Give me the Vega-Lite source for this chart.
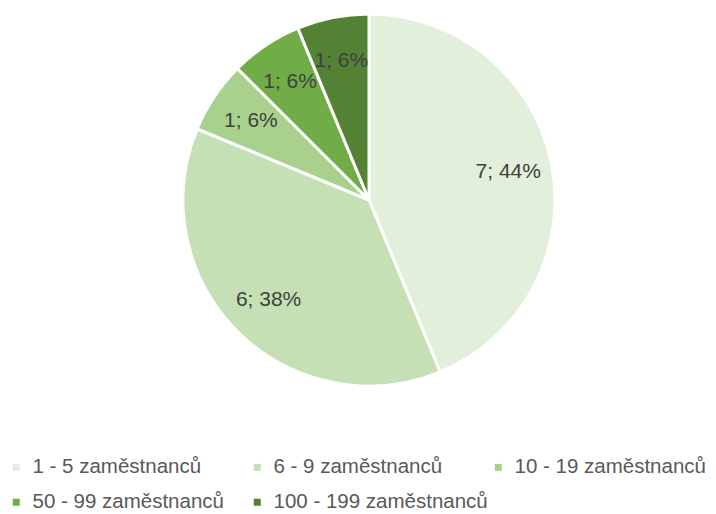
{
  "$schema": "https://vega.github.io/schema/vega-lite/v6.json",
  "width": 738,
  "height": 400,
  "padding": {"left": 0, "top": 0, "right": 0, "bottom": 114},
  "autosize": {"type": "none"},
  "background": "white",
  "config": {"view": {"stroke": null}, "font": "Liberation Sans"},
  "data": {
    "values": [
      {"cat": "1 - 5 zaměstnanců", "n": 7, "label": "7; 44%", "ord": 1},
      {"cat": "6 - 9 zaměstnanců", "n": 6, "label": "6; 38%", "ord": 2},
      {"cat": "10 - 19 zaměstnanců", "n": 1, "label": "1; 6%", "ord": 3},
      {"cat": "50 - 99 zaměstnanců", "n": 1, "label": "1; 6%", "ord": 4},
      {"cat": "100 - 199 zaměstnanců", "n": 1, "label": "1; 6%", "ord": 5}
    ]
  },
  "encoding": {
    "theta": {"field": "n", "type": "quantitative", "stack": true},
    "order": {"field": "ord", "type": "quantitative"}
  },
  "layer": [
    {
      "mark": {"type": "arc", "outerRadius": 186, "stroke": "white", "strokeWidth": 3},
      "encoding": {
        "color": {
          "field": "cat",
          "type": "nominal",
          "sort": ["1 - 5 zaměstnanců", "6 - 9 zaměstnanců", "10 - 19 zaměstnanců", "50 - 99 zaměstnanců", "100 - 199 zaměstnanců"],
          "scale": {
            "domain": ["1 - 5 zaměstnanců", "6 - 9 zaměstnanců", "10 - 19 zaměstnanců", "50 - 99 zaměstnanců", "100 - 199 zaměstnanců"],
            "range": ["#E2EFDA", "#C5E0B4", "#A9D18E", "#70AD47", "#548235"]
          },
          "legend": {
            "title": null,
            "orient": "none",
            "legendX": 6,
            "legendY": 457,
            "direction": "horizontal",
            "columns": 3,
            "gridAlign": "all",
            "columnPadding": -4,
            "rowPadding": 14,
            "symbolType": "square",
            "symbolSize": 49,
            "symbolStrokeWidth": 0,
            "labelFontSize": 20.5,
            "labelColor": "#595959",
            "labelFont": "Liberation Sans",
            "labelLimit": 300,
            "labelOffset": 6
          }
        }
      }
    },
    {
      "mark": {"type": "text", "radius": 142, "fontSize": 21, "color": "#404040", "font": "Liberation Sans"},
      "encoding": {"text": {"field": "label", "type": "nominal"}}
    }
  ]
}
